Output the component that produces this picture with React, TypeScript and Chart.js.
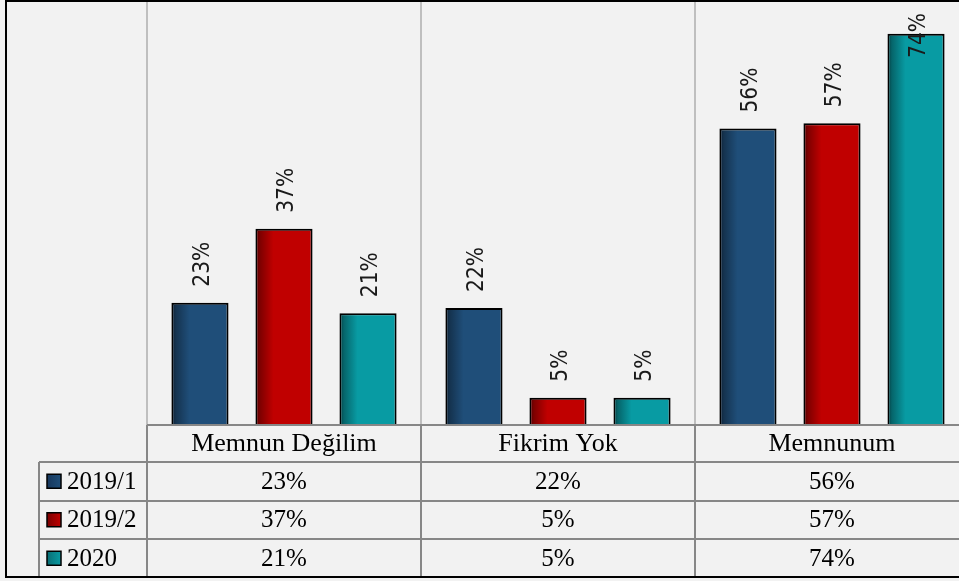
import React, { useEffect, useRef } from 'react';
import { Chart, registerables } from 'chart.js';

Chart.register(...registerables);

const categories = ['Memnun Değilim', 'Fikrim Yok', 'Memnunum'];
const seriesNames = ['2019/1', '2019/2', '2020'];
const values2019_1 = [23, 22, 56];
const values2019_2 = [37, 5, 57];
const values2020 = [21, 5, 74];
const seriesValues = [values2019_1, values2019_2, values2020];
const seriesColors = ['#1F4E79', '#C00000', '#089BA3'];
const markerColors = ['#17375C', '#7A0000', '#0A6E74'];
const yMax = 80;

const CANVAS_W = 969;
const CANVAS_H = 581;
const VIEW_W = 959;
const CAT_FONT = '26px "Liberation Serif", "Times New Roman", serif';
const TABLE_FONT = '25px "Liberation Serif", "Times New Roman", serif';
const LABEL_FONT = '22.5px "Liberation Sans Narrow", "Arial Narrow", "DejaVu Sans Condensed", sans-serif';
const BG = '#F2F2F2';
const PLOT_LINE = '#BFBFBF';
const TABLE_LINE = '#878787';

const tablePlugin = {
  id: 'tablePlugin',
  beforeDraw(chart: any) {
    const { ctx, chartArea: a } = chart;
    ctx.save();
    ctx.fillStyle = BG;
    ctx.fillRect(0, 0, chart.width, chart.height);
    const catW = (a.right - a.left) / categories.length;
    ctx.strokeStyle = PLOT_LINE;
    ctx.lineWidth = 2;
    for (let i = 0; i <= categories.length; i++) {
      const x = Math.round(a.left + i * catW);
      ctx.beginPath();
      ctx.moveTo(x, a.top);
      ctx.lineTo(x, a.bottom + 1);
      ctx.stroke();
    }
    ctx.restore();
  },
  afterDatasetsDraw(chart: any) {
    const { ctx, chartArea: a } = chart;
    ctx.save();
    chart.data.datasets.forEach((ds: any, i: number) => {
      const meta = chart.getDatasetMeta(i);
      meta.data.forEach((el: any) => {
        const { x, y, base, width } = el.getProps(['x', 'y', 'base', 'width'], true);
        const l = x - width / 2 + 2;
        const r = x + width / 2 - 2;
        const g = ctx.createLinearGradient(l, 0, l + width * 0.28, 0);
        g.addColorStop(0, 'rgba(0,0,0,0.5)');
        g.addColorStop(0.15, 'rgba(0,0,0,0.35)');
        g.addColorStop(1, 'rgba(0,0,0,0)');
        ctx.fillStyle = g;
        ctx.fillRect(l, y + 2, r - l, base - y - 2);
      });
    });
    ctx.font = LABEL_FONT;
    ctx.fillStyle = '#1a1a1a';
    ctx.textAlign = 'left';
    ctx.textBaseline = 'middle';
    chart.data.datasets.forEach((ds: any, i: number) => {
      const meta = chart.getDatasetMeta(i);
      meta.data.forEach((el: any, j: number) => {
        const text = ds.data[j] + '%';
        const tw = ctx.measureText(text).width;
        let start = el.y - 16;
        if (start - tw < a.top + 11) start = a.top + 11 + tw;
        ctx.save();
        ctx.translate(el.x + 3, start);
        ctx.rotate(-Math.PI / 2);
        ctx.fillText(text, 0, 0);
        ctx.restore();
      });
    });
    ctx.restore();
  },
  afterDraw(chart: any) {
    const { ctx, chartArea: a } = chart;
    const catW = (a.right - a.left) / categories.length;
    const headTop = a.bottom + 1;
    const headBottom = headTop + 37;
    const rowH = 38.5;
    const tableBottom = headBottom + rowH * seriesNames.length;
    const legendLeft = 39;
    ctx.save();
    ctx.strokeStyle = TABLE_LINE;
    ctx.lineWidth = 2;
    ctx.beginPath();
    ctx.moveTo(a.left, headTop);
    ctx.lineTo(a.right, headTop);
    ctx.stroke();
    for (let r = 0; r < seriesNames.length; r++) {
      const y = Math.round(headBottom + r * rowH);
      ctx.beginPath();
      ctx.moveTo(legendLeft, y);
      ctx.lineTo(a.right, y);
      ctx.stroke();
    }
    for (let i = 0; i <= categories.length; i++) {
      const x = Math.round(a.left + i * catW);
      ctx.beginPath();
      ctx.moveTo(x, headTop);
      ctx.lineTo(x, tableBottom);
      ctx.stroke();
    }
    ctx.beginPath();
    ctx.moveTo(legendLeft, headBottom);
    ctx.lineTo(legendLeft, tableBottom);
    ctx.stroke();

    ctx.fillStyle = '#000';
    ctx.textBaseline = 'middle';
    ctx.textAlign = 'center';
    ctx.font = CAT_FONT;
    categories.forEach((c, i) => {
      ctx.fillText(c, a.left + (i + 0.5) * catW, (headTop + headBottom) / 2 + 1);
    });
    ctx.font = TABLE_FONT;
    seriesValues.forEach((vals, r) => {
      const cy = headBottom + (r + 0.5) * rowH + 1;
      vals.forEach((v, i) => {
        ctx.fillText(v + '%', a.left + (i + 0.5) * catW, cy);
      });
    });
    ctx.textAlign = 'left';
    seriesNames.forEach((s, r) => {
      const cy = headBottom + (r + 0.5) * rowH;
      const mx = 47;
      const ms = 14;
      const g = ctx.createLinearGradient(mx, 0, mx + ms, 0);
      g.addColorStop(0, markerColors[r]);
      g.addColorStop(1, seriesColors[r]);
      ctx.fillStyle = g;
      ctx.fillRect(mx, cy - ms / 2, ms, ms);
      ctx.strokeStyle = '#000';
      ctx.lineWidth = 1.5;
      ctx.strokeRect(mx, cy - ms / 2, ms, ms);
      ctx.fillStyle = '#000';
      ctx.fillText(s, 67, cy + 1);
    });

    ctx.strokeStyle = '#000';
    ctx.lineWidth = 2;
    ctx.beginPath();
    ctx.moveTo(6, 1);
    ctx.lineTo(chart.width, 1);
    ctx.moveTo(6, 0);
    ctx.lineTo(6, 578);
    ctx.moveTo(6, 577);
    ctx.lineTo(chart.width, 577);
    ctx.stroke();
    ctx.restore();
  },
};

export default function App() {
  const canvasRef = useRef<HTMLCanvasElement | null>(null);

  useEffect(() => {
    if (!canvasRef.current) return;
    const chart = new Chart(canvasRef.current, {
      type: 'bar',
      data: {
        labels: categories,
        datasets: seriesNames.map((name, i) => ({
          label: name,
          data: seriesValues[i],
          backgroundColor: seriesColors[i],
          borderColor: '#000',
          borderWidth: 2,
          categoryPercentage: 0.92,
          barPercentage: 0.68,
        })),
      },
      options: {
        responsive: false,
        animation: false,
        devicePixelRatio: 1,
        layout: { padding: { left: 147, right: 0, top: 2, bottom: 157 } },
        plugins: {
          legend: { display: false },
          tooltip: { enabled: false },
          title: { display: false },
        },
        scales: {
          x: { display: false, grid: { display: false } },
          y: { display: false, min: 0, max: yMax },
        },
      },
      plugins: [tablePlugin],
    });
    return () => chart.destroy();
  }, []);

  return (
    <div
      style={{
        position: 'fixed',
        left: 0,
        top: 0,
        width: VIEW_W,
        height: CANVAS_H,
        overflow: 'hidden',
        background: BG,
      }}
    >
      <canvas
        ref={canvasRef}
        width={CANVAS_W}
        height={CANVAS_H}
        style={{ display: 'block', width: CANVAS_W, height: CANVAS_H }}
      />
    </div>
  );
}
